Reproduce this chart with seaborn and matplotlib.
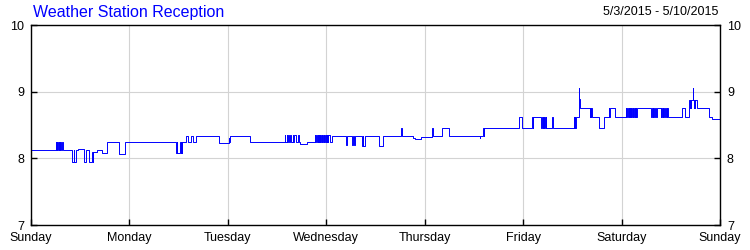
import matplotlib
matplotlib.use("Agg")
import matplotlib.pyplot as plt
import seaborn as sns
import pandas as pd

# ---- data -------------------------------------------------------------
title = "Weather Station Reception"
date_range = "5/3/2015 - 5/10/2015"
day_labels = ["Sunday", "Monday", "Tuesday", "Wednesday", "Thursday",
              "Friday", "Saturday", "Sunday"]
y_ticks = [7, 8, 9, 10]

# hours since Sunday 00:00 (step changes)
hours = [
    0.0,
    6.1, 6.2, 6.3, 6.4, 6.5, 6.6, 6.7, 6.8, 6.9, 7.0, 7.1, 7.4, 7.5, 7.8,
    10.0, 10.4, 10.5, 10.9, 11.5, 13.0, 13.4, 14.2, 14.9, 15.0, 15.1, 16.0, 17.2,
    18.6, 21.5, 22.9,
    35.4, 35.5, 35.6, 36.4, 36.5, 36.6, 36.7, 36.8,
    37.8, 38.4, 39.0, 39.5, 40.2,
    45.8, 48.2, 48.4, 48.5, 53.4,
    61.9, 62.0, 62.3, 62.4, 62.7, 62.8, 63.2, 63.3, 63.9, 64.0, 64.1, 64.7,
    65.2, 65.3, 65.6, 67.3,
    69.2, 69.3, 69.6, 69.7, 70.0, 70.1, 70.2, 70.3, 70.4, 70.5, 70.6, 70.7,
    70.8, 70.9, 71.0, 71.1, 71.2, 71.3, 71.4, 71.5, 71.6, 71.7, 71.8, 71.9,
    72.0, 72.1, 72.2, 72.3, 72.4, 72.8, 72.9,
    73.4, 76.8, 77.0, 78.3, 78.6, 78.8, 78.9, 80.7, 80.9, 81.0, 81.5,
    84.9, 85.8, 90.2, 90.5, 93.1, 93.7, 95.1, 97.8, 97.9,
    100.2, 101.8, 101.9, 102.0, 109.5, 109.6, 110.2, 110.4, 110.5,
    119.0, 119.7, 122.2, 122.3, 122.5,
    124.4, 124.5, 124.6, 124.7, 124.8, 124.9, 125.0, 125.2, 125.3, 125.5, 125.6,
    127.0, 127.3,
    132.4, 132.5, 132.6, 132.7, 132.8, 133.5, 133.6, 133.9,
    136.3, 136.4, 136.5, 136.6, 136.7, 138.6, 139.7,
    140.9, 141.0, 141.1, 142.4,
    145.1, 145.2, 145.4, 145.5, 145.7, 145.8, 146.0, 146.1, 146.3, 146.4,
    146.6, 146.7, 146.9, 147.0, 147.2, 147.3, 147.5, 147.6, 147.8,
    151.2, 151.3, 151.6, 151.7, 152.0, 152.1, 152.5, 152.6,
    153.6, 153.7, 153.9, 154.0, 154.2, 154.4, 154.7, 154.8, 155.0, 155.1, 155.3,
    158.7, 159.4,
    160.4, 160.6, 160.7, 160.9, 161.0, 161.3, 161.4, 161.6, 161.7, 161.9,
    162.0, 162.3,
    165.3, 166.0, 168.0,
]

# reception value at each step
reception = [
    8.12,
    8.24, 8.12, 8.24, 8.12, 8.24, 8.12, 8.24, 8.12, 8.24, 8.12, 8.24, 8.12, 8.24, 8.12,
    7.94, 8.12, 7.94, 8.12, 8.14, 7.94, 8.12, 7.94, 8.09, 7.94, 8.09, 8.12, 8.08,
    8.24, 8.06, 8.24,
    8.08, 8.24, 8.08, 8.24, 8.08, 8.24, 8.08, 8.24,
    8.34, 8.24, 8.34, 8.24, 8.34,
    8.23, 8.30, 8.24, 8.34, 8.24,
    8.35, 8.24, 8.35, 8.24, 8.35, 8.24, 8.35, 8.24, 8.35, 8.24, 8.35, 8.24,
    8.35, 8.24, 8.21, 8.24,
    8.35, 8.24, 8.35, 8.24, 8.35, 8.24, 8.35, 8.24, 8.35, 8.24, 8.35, 8.24,
    8.35, 8.24, 8.35, 8.24, 8.35, 8.24, 8.35, 8.24, 8.35, 8.24, 8.35, 8.24,
    8.35, 8.24, 8.35, 8.24, 8.35, 8.35, 8.24,
    8.33, 8.20, 8.33, 8.20, 8.33, 8.20, 8.33, 8.18, 8.33, 8.18, 8.33,
    8.18, 8.33, 8.45, 8.33, 8.31, 8.29, 8.32, 8.45, 8.33,
    8.45, 8.33, 8.45, 8.33, 8.31, 8.33, 8.45, 8.33, 8.45,
    8.62, 8.45, 8.62, 8.45, 8.62,
    8.45, 8.62, 8.45, 8.62, 8.45, 8.62, 8.45, 8.62, 8.45, 8.62, 8.45,
    8.62, 8.45,
    8.62, 8.45, 8.62, 8.45, 8.62, 9.05, 8.89, 8.75,
    8.62, 8.75, 8.62, 8.75, 8.62, 8.45, 8.62,
    8.75, 8.62, 8.75, 8.62,
    8.75, 8.62, 8.75, 8.62, 8.75, 8.62, 8.75, 8.62, 8.75, 8.62,
    8.75, 8.62, 8.75, 8.62, 8.75, 8.62, 8.75, 8.62, 8.75,
    8.62, 8.75, 8.62, 8.75, 8.62, 8.75, 8.62, 8.75,
    8.62, 8.75, 8.62, 8.75, 8.62, 8.75, 8.62, 8.75, 8.62, 8.75, 8.62,
    8.75, 8.62,
    8.87, 8.75, 8.87, 8.75, 8.87, 9.05, 8.87, 8.75, 8.87, 8.75,
    8.87, 8.75,
    8.62, 8.59, 8.59,
]

df = pd.DataFrame({"hour": hours, "reception": reception})

# ---- style ------------------------------------------------------------
sns.set_style("white")
plt.rcParams["font.family"] = ["Liberation Sans", "DejaVu Sans"]

fig = plt.figure(figsize=(7.5, 2.5), dpi=100)
ax = fig.add_axes([31 / 750, 1 - 225 / 250, 689 / 750, 200 / 250])

sns.lineplot(data=df, x="hour", y="reception", ax=ax, color="#0000ff",
             linewidth=0.7, drawstyle="steps-post", estimator=None,
             sort=False, legend=False)

ax.set_xlim(0, 168)
ax.set_ylim(7, 10)
ax.set_xticks([24 * i for i in range(len(day_labels))])
ax.set_xticklabels(day_labels)
ax.set_yticks(y_ticks)
ax.set_yticklabels([str(v) for v in y_ticks])
ax.set_xlabel("")
ax.set_ylabel("")

ax.grid(True, color="#d3d3d3", linewidth=0.8)
ax.set_axisbelow(True)
for s in ax.spines.values():
    s.set_visible(True)
    s.set_color("black")
    s.set_linewidth(1.0)

ax.tick_params(axis="both", direction="in", length=4, width=1, color="black",
               labelsize=9, labelcolor="black")
ax.tick_params(axis="y", left=True, right=True, labelleft=True,
               labelright=True, pad=5)
ax.tick_params(axis="x", bottom=True, pad=5)

fig.text(33 / 750, 1 - 12 / 250, title, color="#0000ff", fontsize=11.5,
         ha="left", va="center")
fig.text(718 / 750, 1 - 12 / 250, date_range, color="black", fontsize=9,
         ha="right", va="center")

fig.savefig("out.png", dpi=100)
